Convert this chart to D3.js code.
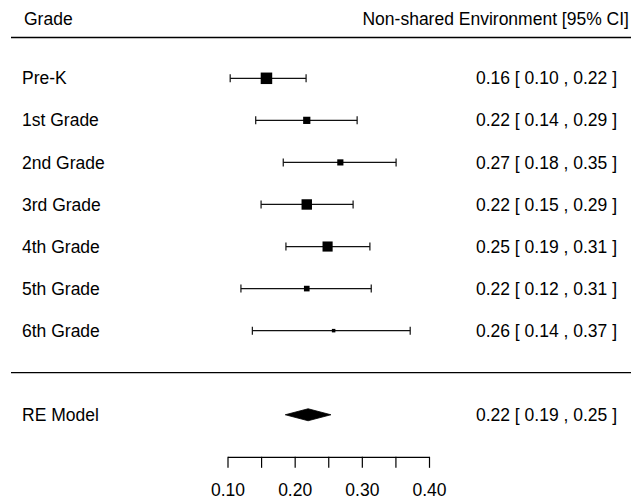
<!DOCTYPE html>
<html>
<head>
<meta charset="utf-8">
<script src="https://cdn.jsdelivr.net/npm/d3@7"></script>
<style>
  body { margin: 0; background: #fff; }
  text { font-family: "Liberation Sans", Arial, sans-serif; font-size: 17.5px; fill: #000; }
</style>
</head>
<body>
<div id="vis"></div>
<script>
const FRAME_WIDTH = 641;
const FRAME_HEIGHT = 502;

// study rows, top to bottom
const grades = ["Pre-K", "1st Grade", "2nd Grade", "3rd Grade", "4th Grade", "5th Grade", "6th Grade"];
const estimates = [0.158, 0.218, 0.268, 0.218, 0.249, 0.218, 0.258];
const lower = [0.104, 0.142, 0.183, 0.150, 0.187, 0.120, 0.137];
const upper = [0.217, 0.293, 0.351, 0.287, 0.312, 0.314, 0.372];
const weights = [17.5, 13.5, 12.5, 16.5, 16.2, 12.0, 10.0];

// pooled random-effects estimate
const reLabel = "RE Model";
const reEstimate = 0.220;
const reLower = 0.186;
const reUpper = 0.254;

const xTicks = [0.10, 0.15, 0.20, 0.25, 0.30, 0.35, 0.40];
const xTickLabels = ["0.10", "", "0.20", "", "0.30", "", "0.40"];

const headerLeft = "Grade";
const headerRight = "Non-shared Environment [95% CI]";

const svg = d3.select("#vis")
  .append("svg")
  .attr("width", FRAME_WIDTH)
  .attr("height", FRAME_HEIGHT);

const X = d3.scaleLinear().domain([0.1, 0.4]).range([227.5, 429]);
// row units: studies at k..1, separator at 0, RE model at -1, axis at -2
const Y = d3.scaleLinear().domain([0, 7]).range([372.7, 78.3]);
const S = d3.scaleLinear().domain([10, 17.5]).range([3.5, 11.5]);

const k = grades.length;
const rows = grades.map((g, i) => ({
  grade: g, est: estimates[i], lo: lower[i], hi: upper[i], w: weights[i], row: k - i
}));

const fmt = (v) => v.toFixed(2);
const ann = (e, l, h) => `${fmt(e)} [ ${fmt(l)} , ${fmt(h)} ]`;

// header
svg.append("text").attr("x", 24).attr("y", 19).attr("dy", "0.35em").text(headerLeft);
svg.append("text").attr("x", 629).attr("y", 19).attr("dy", "0.35em")
  .attr("text-anchor", "end").text(headerRight);

svg.append("line").attr("x1", 11).attr("x2", 631)
  .attr("y1", Y(7.97)).attr("y2", Y(7.97))
  .attr("stroke", "#000").attr("stroke-width", 1.3);
svg.append("line").attr("x1", 11).attr("x2", 631)
  .attr("y1", Y(0)).attr("y2", Y(0))
  .attr("stroke", "#000").attr("stroke-width", 1.3);

const g = svg.selectAll(".row")
  .data(rows)
  .enter()
  .append("g")
  .attr("class", "row");

g.append("text")
  .attr("x", 22)
  .attr("y", (d) => Y(d.row))
  .attr("dy", "0.35em")
  .text((d) => d.grade);

g.append("line")
  .attr("x1", (d) => X(d.lo)).attr("x2", (d) => X(d.hi))
  .attr("y1", (d) => Y(d.row)).attr("y2", (d) => Y(d.row))
  .attr("stroke", "#111").attr("stroke-width", 1.2);

g.append("line")
  .attr("x1", (d) => X(d.lo)).attr("x2", (d) => X(d.lo))
  .attr("y1", (d) => Y(d.row) - 4).attr("y2", (d) => Y(d.row) + 4)
  .attr("stroke", "#111").attr("stroke-width", 1.2);

g.append("line")
  .attr("x1", (d) => X(d.hi)).attr("x2", (d) => X(d.hi))
  .attr("y1", (d) => Y(d.row) - 4).attr("y2", (d) => Y(d.row) + 4)
  .attr("stroke", "#111").attr("stroke-width", 1.2);

g.append("rect")
  .attr("x", (d) => X(d.est) - S(d.w) / 2)
  .attr("y", (d) => Y(d.row) - S(d.w) / 2)
  .attr("width", (d) => S(d.w))
  .attr("height", (d) => S(d.w))
  .attr("fill", "#000");

g.append("text")
  .attr("x", 617)
  .attr("y", (d) => Y(d.row))
  .attr("dy", "0.35em")
  .attr("text-anchor", "end")
  .text((d) => ann(d.est, d.lo, d.hi));

// RE model row
const yRE = Y(-1);
svg.append("text").attr("x", 22).attr("y", yRE).attr("dy", "0.35em").text(reLabel);
svg.append("polygon")
  .attr("points", [
    [X(reLower), yRE], [X(reEstimate), yRE - 6],
    [X(reUpper), yRE], [X(reEstimate), yRE + 6]
  ].map((p) => p.join(",")).join(" "))
  .attr("fill", "#000")
  .attr("stroke", "#000")
  .attr("stroke-width", 0.8);
svg.append("text").attr("x", 617).attr("y", yRE).attr("dy", "0.35em")
  .attr("text-anchor", "end").text(ann(reEstimate, reLower, reUpper));

// axis
const axis = d3.axisBottom(X)
  .tickValues(xTicks)
  .tickFormat((d, i) => xTickLabels[i])
  .tickSize(11)
  .tickSizeOuter(0)
  .tickPadding(16);

const ax = svg.append("g")
  .attr("transform", `translate(0,${Y(-2)})`)
  .call(axis);
ax.select(".domain").attr("stroke", "#000").attr("stroke-width", 1.2);
ax.selectAll(".tick line").attr("stroke", "#000").attr("stroke-width", 1.2);
ax.selectAll(".tick text")
  .style("font-family", "'Liberation Sans', Arial, sans-serif")
  .style("font-size", "17.5px")
  .attr("fill", "#000");
</script>
</body>
</html>
